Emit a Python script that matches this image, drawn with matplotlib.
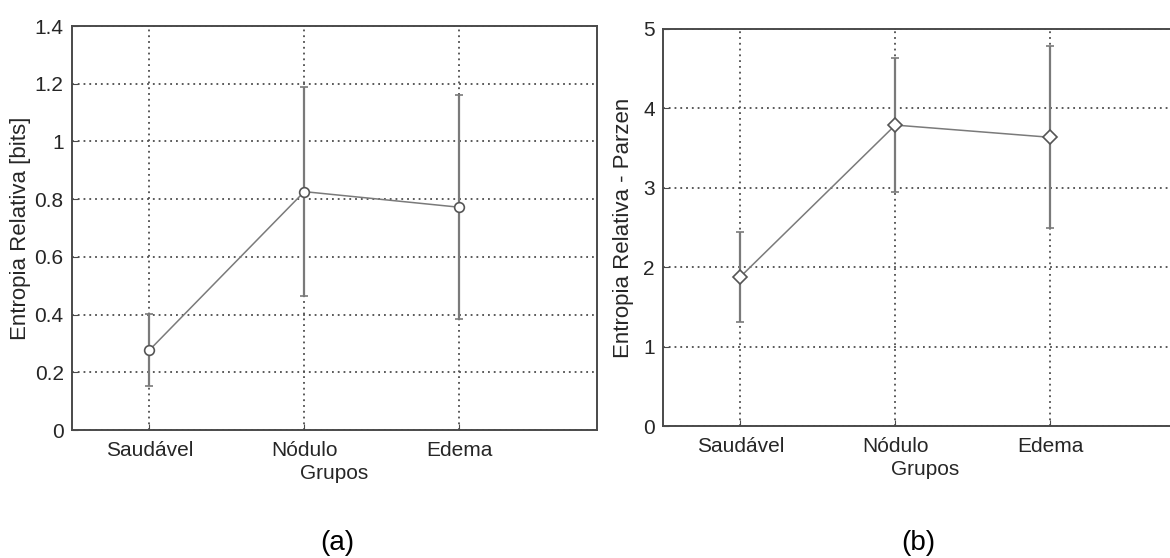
import matplotlib
matplotlib.use("Agg")
import matplotlib.pyplot as plt
import numpy as np

plt.rcParams['font.family'] = ['Liberation Sans', 'DejaVu Sans']

groups = ["Saudável", "Nódulo", "Edema"]

# (a) relative entropy in bits: mean and spread per group
ent_bits_mean = [0.277, 0.826, 0.772]
ent_bits_err = [0.124, 0.363, 0.389]
ticks_a = [0, 0.2, 0.4, 0.6, 0.8, 1.0, 1.2, 1.4]
ticklabels_a = ["0", "0.2", "0.4", "0.6", "0.8", "1", "1.2", "1.4"]

# (b) relative entropy with Parzen estimation
ent_parzen_mean = [1.88, 3.79, 3.636]
ent_parzen_err = [0.567, 0.845, 1.148]
ticks_b = [0, 1, 2, 3, 4, 5]
ticklabels_b = ["0", "1", "2", "3", "4", "5"]

W, H = 1170, 558
fig = plt.figure(figsize=(W / 100, H / 100), dpi=100)

def px_axes(l, r, t, b):
    return fig.add_axes([l / W, 1 - b / H, (r - l) / W, (b - t) / H])

ax_a = px_axes(72, 597, 26, 430)
ax_b = px_axes(663, 1188, 29, 426)

line_col = "#7a7a7a"
frame_col = "#4a4a4a"
text_col = "#262626"

def draw(ax, mean, err, ticks, ticklabels, ylim, ylabel, marker, label_x):
    x = np.arange(1, len(groups) + 1)
    ax.errorbar(x, mean, yerr=err, color=line_col, ecolor=line_col,
                elinewidth=1.6, capsize=3, capthick=1.4, lw=1.1,
                marker=marker, markersize=7, markerfacecolor="white",
                markeredgecolor="#555555", markeredgewidth=1.2, zorder=3)
    ax.set_xlim(0.5, 3.89)
    ax.set_ylim(*ylim)
    ax.set_xticks(x)
    ax.set_xticklabels(groups, fontsize=15, color=text_col)
    ax.set_yticks(ticks)
    ax.set_yticklabels(ticklabels, fontsize=15, color=text_col)
    ax.grid(True, linestyle=(0, (1.0, 2.2)), color="#4d4d4d", linewidth=1.3)
    ax.set_axisbelow(True)
    ax.tick_params(direction="in", length=4, color=frame_col)
    ax.tick_params(axis="x", pad=8)
    ax.tick_params(axis="y", pad=6)
    for s in ax.spines.values():
        s.set_color(frame_col)
        s.set_linewidth(1.4)
    ax.set_xlabel("Grupos", fontsize=15, color=text_col, labelpad=3)
    ax.set_ylabel(ylabel, fontsize=16, color=text_col)
    ax.yaxis.set_label_coords(label_x, 0.5)

draw(ax_a, ent_bits_mean, ent_bits_err, ticks_a, ticklabels_a, (0, 1.4),
     "Entropia Relativa [bits]", "o", -0.078)
draw(ax_b, ent_parzen_mean, ent_parzen_err, ticks_b, ticklabels_b, (0, 5),
     "Entropia Relativa - Parzen", "D", -0.055)

fig.text(337 / W, 1 - 543 / H, "(a)", fontsize=20, ha="center", va="center")
fig.text(918 / W, 1 - 543 / H, "(b)", fontsize=20, ha="center", va="center")

fig.savefig("out.png", dpi=100, facecolor="white")
